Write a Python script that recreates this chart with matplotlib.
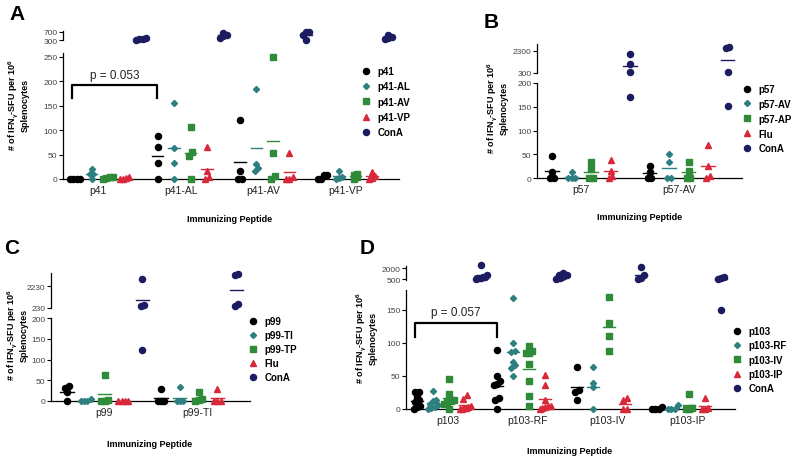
import matplotlib
matplotlib.use("Agg")
import matplotlib.pyplot as plt
from matplotlib.lines import Line2D
import numpy as np

# ---- data (IFN-gamma SFU per 10^6 splenocytes, one list per group) ----
A_groups = ["p41", "p41-AL", "p41-AV", "p41-VP"]
A_names = ["p41", "p41-AL", "p41-AV", "p41-VP", "ConA"]
A_p41 = [[0, 0, 0, 0], [89, 66, 33, 0], [121, 16, 0, 0], [8, 8, 0, 0]]
A_p41AL = [[21, 11, 10, 0], [156, 64, 32, 0], [185, 30, 22, 16], [17, 5, 3, 0]]
A_p41AV = [[5, 5, 3, 0], [107, 55, 47, 0], [250, 53, 7, 0], [10, 9, 4, 0]]
A_p41VP = [[5, 3, 0, 0], [65, 16, 4, 0], [53, 5, 0, 0], [14, 7, 3, 0]]
A_conA = [[380, 330, 300, 350], [620, 560, 480, 400], [700, 660, 520, 300], [560, 440, 380, 330]]

B_groups = ["p57", "p57-AV"]
B_names = ["p57", "p57-AV", "p57-AP", "Flu", "ConA"]
B_p57 = [[46, 13, 0, 0], [26, 12, 0, 0]]
B_p57AV = [[12, 0, 0, 0], [50, 33, 0, 0]]
B_p57AP = [[33, 19, 0, 0], [33, 15, 0, 0]]
B_flu = [[38, 15, 5, 0], [69, 25, 5, 0]]
B_conA = [[2050, 1120, 390, 170], [2700, 2550, 380, 152]]

C_groups = ["p99", "p99-TI"]
C_names = ["p99", "p99-TI", "p99-TP", "Flu", "ConA"]
C_p99 = [[36, 32, 22, 0], [29, 0, 0, 0]]
C_p99TI = [[5, 0, 0, 0], [33, 0, 0, 0]]
C_p99TP = [[63, 3, 0, 0], [22, 5, 2, 0]]
C_flu = [[0, 0, 0, 0], [28, 0, 0, 0]]
C_conA = [[2940, 540, 380, 123], [3400, 3250, 600, 450]]

D_groups = ["p103", "p103-RF", "p103-IV", "p103-IP"]
D_names = ["p103", "p103-RF", "p103-IV", "p103-IP", "ConA"]
D_p103 = [[26, 25, 18, 13, 10, 5, 3, 0], [89, 50, 42, 38, 36, 16, 13, 0], [63, 29, 26, 13], [3, 0, 0, 0]]
D_p103RF = [[27, 13, 12, 8, 6, 3, 2, 0], [168, 100, 87, 86, 71, 67, 62, 50], [63, 40, 33, 0], [6, 0, 0, 0]]
D_p103IV = [[46, 23, 15, 14, 12, 10, 8, 0], [96, 87, 85, 84, 68, 43, 19, 4], [170, 130, 110, 87], [22, 2, 0, 0]]
D_p103IP = [[21, 15, 5, 3, 2, 1, 0, 0], [52, 37, 13, 5, 4, 3, 2, 0], [16, 13, 0, 0], [17, 2, 0, 0]]
D_conA = [[2500, 1000, 850, 750, 700, 650, 600, 550], [1300, 1100, 1000, 900, 800, 700, 600, 500],
          [2150, 1000, 700, 550], [820, 700, 500, 150]]

W, H = 800, 464
plt.rcParams["font.family"] = ["Liberation Sans", "DejaVu Sans"]
plt.rcParams["mathtext.fontset"] = "custom"
plt.rcParams["mathtext.rm"] = "Liberation Sans:bold"
plt.rcParams["mathtext.it"] = "Liberation Sans:bold"

COLORS = ["#000000", "#2e8080", "#2f8a3a", "#d8283a", "#1c1c60"]
MARKERS = ["o", "D", "s", "^", "o"]
SIZES = [4.4, 3.1, 4.0, 4.6, 4.4]
YLAB = "# of IFN$_\\gamma$-SFU per 10$^6$\nSplenocytes"

fig = plt.figure(figsize=(W / 100, H / 100), dpi=100)


def rect(l, r, t, b):
    return [l / W, 1 - b / H, (r - l) / W, (b - t) / H]


def style(ax, ticks, bottom):
    for s in ("top", "right"):
        ax.spines[s].set_visible(False)
    ax.spines["left"].set_linewidth(0.9)
    if not bottom:
        ax.spines["bottom"].set_visible(False)
        ax.set_xticks([])
    else:
        ax.spines["bottom"].set_linewidth(0.9)
    ax.set_yticks(ticks)
    ax.tick_params(axis="y", length=3, width=0.8, labelsize=6, labelcolor="#444", pad=1)
    ax.patch.set_alpha(0)


def panel(lo_box, hi_box, lo_lim, hi_lim, lo_ticks, hi_ticks, xlim, groups, tick_off, series):
    lo = fig.add_axes(rect(*lo_box))
    hi = fig.add_axes(rect(*hi_box))
    for ax in (lo, hi):
        ax.set_xlim(*xlim)
    lo.set_ylim(*lo_lim)
    hi.set_ylim(*hi_lim)
    style(lo, lo_ticks, True)
    style(hi, hi_ticks, False)
    lo.set_xticks([5 * g + tick_off for g in range(len(groups))], groups)
    lo.tick_params(axis="x", length=0, labelsize=7.5, pad=4, labelcolor="#222")
    pxu = lo.transData.transform((1, 0))[0] - lo.transData.transform((0, 0))[0]
    handles = []
    for j, vals in enumerate(series):
        for g, col in enumerate(vals):
            xc = 5 * g + j
            pts = []
            for v in col:
                ax = lo if v <= lo_lim[1] else hi
                pts.append((ax.transData.transform((xc, v))[1], v, ax))
            pts.sort(key=lambda p: p[0])
            # points closer than ~4 px vertically are spread sideways
            clusters = []
            for p in pts:
                if clusters and p[0] - clusters[-1][0][0] < 4.0:
                    clusters[-1].append(p)
                else:
                    clusters.append([p])
            for cl in clusters:
                n = len(cl)
                step = min(3.3, 11.0 / max(n - 1, 1))
                for k, (py, v, ax) in enumerate(cl):
                    dx = (k - (n - 1) / 2) * step / pxu
                    ax.plot(xc + dx, v, ls="none", marker=MARKERS[j], ms=SIZES[j],
                            color=COLORS[j], mec=COLORS[j], clip_on=False, zorder=3)
            m = np.mean(col)
            ax = lo if m <= lo_lim[1] else hi
            ax.plot([xc - 0.35, xc + 0.35], [m, m], color=COLORS[j], lw=1.0,
                    clip_on=False, zorder=4)
        handles.append(Line2D([], [], ls="none", marker=MARKERS[j], ms=SIZES[j],
                              color=COLORS[j]))
    return lo, hi, handles


def legend(handles, names, x, y, spacing):
    fig.legend(handles, names, loc="upper left", bbox_to_anchor=(x / W, 1 - y / H),
               frameon=False, borderpad=0, borderaxespad=0, handlelength=0.8,
               handletextpad=0.8, labelspacing=spacing,
               prop={"weight": "bold", "size": 7})


def bracket(ax, x0, x1, y0, y1, ty, label):
    ax.plot([x0, x0, x1, x1], [y0, y1, y1, y0], color="black", lw=1.6, clip_on=False)
    ax.text((x0 + x1) / 2, ty, label, ha="center", va="center", fontsize=8.5, color="#222")


# ---- A ----
loA, hiA, hA = panel((63, 399, 54, 180), (63, 399, 31.5, 41), (0, 258), (300, 750),
                     [0, 50, 100, 150, 200, 250], [300, 700], (-0.73, 19.64),
                     A_groups, 1.4, [A_p41, A_p41AL, A_p41AV, A_p41VP, A_conA])
bracket(loA, -0.2, 4.97, 166, 193, 213, "p = 0.053")
legend(hA, A_names, 362, 67, 0.55)

# ---- B ----
loB, hiB, hB = panel((537, 742, 84, 179), (537, 742, 45, 74), (0, 200), (300, 2936),
                     [0, 50, 100, 150, 200], [300, 2300], (-0.77, 9.74),
                     B_groups, 1.5, [B_p57, B_p57AV, B_p57AP, B_flu, B_conA])
legend(hB, B_names, 743, 85, 0.5)

# ---- C ----
loC, hiC, hC = panel((51, 250, 319, 402), (51, 250, 274, 309), (0, 200), (230, 3470),
                     [0, 50, 100, 150, 200], [230, 2230], (-0.85, 9.73),
                     C_groups, 1.95, [C_p99, C_p99TI, C_p99TP, C_flu, C_conA])
legend(hC, C_names, 249, 317, 0.42)

# ---- D ----
loD, hiD, hD = panel((406, 735, 291, 410), (406, 735, 266.7, 281), (0, 180), (360, 2364),
                     [0, 50, 100, 150], [500, 2000], (-0.69, 19.87),
                     D_groups, 1.9, [D_p103, D_p103RF, D_p103IV, D_p103IP, D_conA])
bracket(loD, -0.1, 5.0, 109, 130, 147, "p = 0.057")
legend(hD, D_names, 733, 327, 0.45)

# ---- labels ----
for x, y, s in [(17, 15, "A"), (491, 22, "B"), (12, 249, "C"), (367, 249, "D")]:
    fig.text(x / W, 1 - y / H, s, fontsize=15, fontweight="bold", ha="center", va="center")
for x, y in [(18, 105), (497, 108), (17, 335), (366, 338)]:
    fig.text(x / W, 1 - y / H, YLAB, rotation=90, fontsize=6.5, fontweight="bold",
             ha="center", va="center", multialignment="center", linespacing=1.1)
for x, y in [(230, 219), (640, 218), (150, 445), (570, 452)]:
    fig.text(x / W, 1 - y / H, "Immunizing Peptide", fontsize=6.5, fontweight="bold",
             ha="center", va="center")

fig.savefig("out.png", dpi=100)
